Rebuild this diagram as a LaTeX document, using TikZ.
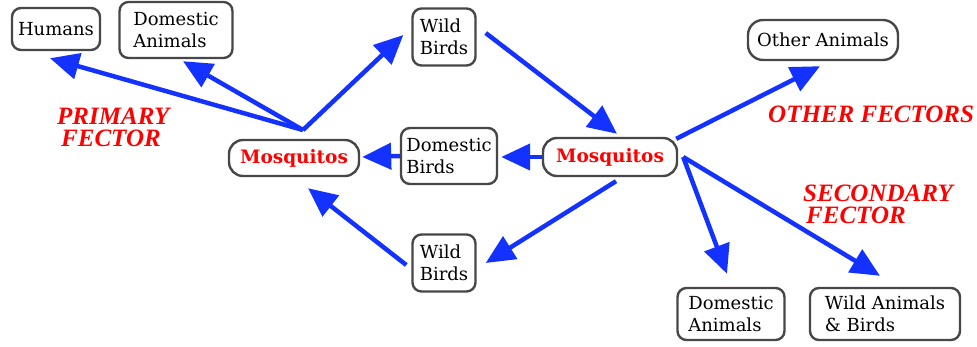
\documentclass[tikz,border=0pt]{standalone}
\usepackage{fontspec}
\setmainfont{DejaVu Serif}
\newfontfamily\lblfont{Liberation Serif}
\usetikzlibrary{arrows.meta,calc}
\definecolor{arblue}{RGB}{20,50,255}
\definecolor{lblred}{RGB}{255,0,0}
\begin{document}
\begin{tikzpicture}[x=1pt,y=-1pt,
 box/.style={draw=black!72, line width=2.4pt, rounded corners=9pt, fill=white, inner sep=0pt, align=left, font=\fontsize{18}{22}\selectfont, text=black},
 mos/.style={draw=black!72, line width=2.4pt, rounded corners=14pt, fill=white, inner sep=0pt, font=\fontsize{18.5}{20}\selectfont\bfseries, text=lblred},
 lbl/.style={text=lblred, font=\lblfont\fontsize{25}{22}\selectfont\bfseries\itshape, inner sep=0pt, align=left, anchor=north west},
 arr/.style={draw=arblue, line width=4.5pt, -{Triangle[length=29pt,width=26pt]}},
]
\useasboundingbox (0,0) rectangle (977,346);
% nodes
\node[box, minimum width=88, minimum height=42] (humans) at (56,29) {Humans};
\node[box, minimum width=113, minimum height=56] (domAt) at (176,30) {Domestic\\Animals};
\node[box, minimum width=63, minimum height=57] (wildT) at (444,37) {Wild\\Birds};
\node[box, rounded corners=15pt, minimum width=150, minimum height=40] (other) at (823,40) {Other Animals};
\node[mos, minimum width=130, minimum height=36] (mosL) at (294,158) {Mosquitos};
\node[box, minimum width=96, minimum height=56] (domB) at (449,156) {Domestic\\Birds};
\node[mos, minimum width=134, minimum height=38] (mosR) at (610,157) {Mosquitos};
\node[box, minimum width=63, minimum height=57] (wildB) at (444,263) {Wild\\Birds};
\node[box, minimum width=107, minimum height=52] (domAb) at (731,314) {Domestic\\Animals};
\node[box, minimum width=150, minimum height=52] (wildAn) at (885,314) {Wild Animals\\\& Birds};
\coordinate (fan) at (303,130);
% labels
\node[lbl] (prim) at (57,108) {PRIMARY\\\hspace*{4pt}FECTOR};
\node[lbl] (oth) at (768,106) {OTHER FECTORS};
\node[lbl] (sec) at (803,185) {SECONDARY\\\hspace*{3pt}FECTOR};
% arrows
\draw[arr] (fan) -- ([shift={(-6,7)}]humans.south);
\draw[arr] (fan) -- ([shift={(7,2)}]domAt.south);
\draw[arr] (fan) -- ([shift={(-8,-2)}]wildT.west);
\draw[arr] ([shift={(9,-4)}]wildT.east) -- ([shift={(7,-3)}]mosR.north);
\draw[arr] (mosR.west) -- ([shift={(3,1)}]domB.east);
\draw[arr] (domB.west) -- ([shift={(2,-1)}]mosL.east);
\draw[arr] ([shift={(6,4)}]mosR.south) -- ([shift={(9,0)}]wildB.east);
\draw[arr] ([shift={(-5,2)}]wildB.west) -- ([shift={(14,11)}]mosL.south);
\draw[arr] ([shift={(-2,2)}]mosR.north east) -- ([shift={(-3,5)}]other.south);
\draw[arr] ([shift={(5,0)}]mosR.east) -- ([shift={(-4,-13)}]domAb.north);
\draw[arr] ([shift={(5,0)}]mosR.east) -- ([shift={(-5,-11)}]wildAn.north);
\end{tikzpicture}
\end{document}
